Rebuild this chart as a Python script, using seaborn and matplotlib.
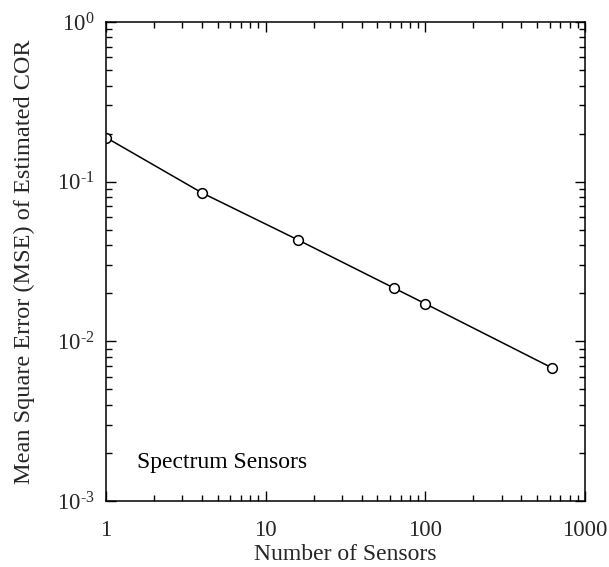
import matplotlib
matplotlib.use("Agg")
import matplotlib.pyplot as plt
import matplotlib.ticker as mticker
import seaborn as sns
import pandas as pd
import numpy as np

sensors = [1, 4, 16, 64, 100, 625]
mse = [0.189, 0.085, 0.0431, 0.0215, 0.0172, 0.0068]
x_ticks = [1, 10, 100, 1000]
x_tick_labels = ["1", "10", "100", "1000"]
y_ticks = [1e-3, 1e-2, 1e-1, 1e0]
y_tick_labels = [r"$\mathregular{10^{\text{-}3}}$", r"$\mathregular{10^{\text{-}2}}$", r"$\mathregular{10^{\text{-}1}}$", r"$\mathregular{10^{0}}$"]

sns.set_theme(style="ticks")
plt.rcParams['font.family'] = ['Liberation Serif', 'DejaVu Serif']
plt.rcParams['mathtext.fontset'] = 'custom'
plt.rcParams['mathtext.rm'] = 'Liberation Serif'

df = pd.DataFrame({"sensors": sensors, "mse": mse})

fig = plt.figure(figsize=(6.09, 5.67), dpi=100)
ax = fig.add_axes([106/609, 1-501/567, 479/609, 479/567])

sns.lineplot(data=df, x="sensors", y="mse", ax=ax, color="black", linewidth=1.1,
             marker="o", markersize=7, markerfacecolor="white", markeredgecolor="black",
             markeredgewidth=1.1)

ax.set_xscale("log")
ax.set_yscale("log")
ax.set_xlim(1, 1000)
ax.set_ylim(1e-3, 1)

ax.set_xticks(x_ticks)
ax.set_xticklabels(x_tick_labels)
ax.set_yticks(y_ticks)
ax.set_yticklabels(y_tick_labels)
ax.xaxis.set_minor_locator(mticker.LogLocator(base=10, subs=np.arange(2, 10), numticks=20))
ax.yaxis.set_minor_locator(mticker.LogLocator(base=10, subs=np.arange(2, 10), numticks=20))
ax.xaxis.set_minor_formatter(mticker.NullFormatter())
ax.yaxis.set_minor_formatter(mticker.NullFormatter())

ax.tick_params(which="both", direction="in", top=True, right=True, color="black", width=1.0)
ax.tick_params(which="major", length=7, labelsize=16.5)
ax.tick_params(axis="x", which="major", pad=14)
ax.tick_params(axis="y", which="major", pad=8)
ax.tick_params(which="minor", length=4)
for s in ax.spines.values():
    s.set_color("black")
    s.set_linewidth(1.1)

ax.set_xlabel("Number of Sensors", fontsize=17, labelpad=2)
ax.set_ylabel("Mean Square Error (MSE) of Estimated COR", fontsize=17.5, labelpad=16)

ax.text(0.065, 0.081, "Spectrum Sensors", transform=ax.transAxes, fontsize=17,
        ha="left", va="center", color="black")

fig.savefig("out.png", dpi=100, facecolor="white")
